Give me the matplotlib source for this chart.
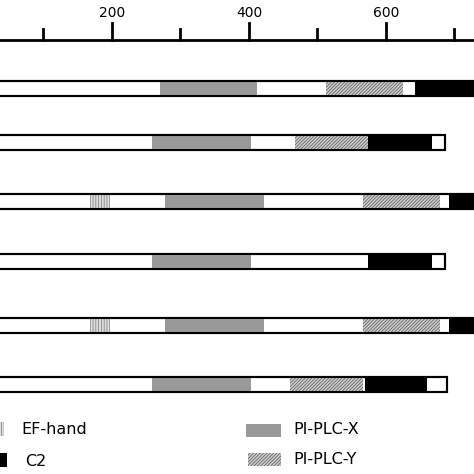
import matplotlib
matplotlib.use('Agg')
import matplotlib.pyplot as plt
from matplotlib.patches import Rectangle

# protein lengths (aa) and domain spans
LENGTHS = [760, 686, 760, 686, 760, 689]
EF = [None, None, (168, 197), None, (168, 197), None]
PLCX = [(270, 412), (258, 403), (277, 422), (258, 403), (277, 422), (258, 403)]
PLCY = [(512, 625), (467, 574), (566, 679), None, (566, 679), (460, 566)]
C2 = [(642, 760), (574, 667), (692, 760), (574, 667), (692, 760), (569, 660)]
MAJOR = [200, 400, 600]
MINOR = [100, 300, 500, 700]

ROW_Y = [88, 142, 201, 261, 325, 384]   # pixel rows
H = 15

plt.rcParams['hatch.linewidth'] = 0.5
fig = plt.figure(figsize=(4.74, 4.74), dpi=100)
ax = fig.add_axes([0, 0, 1, 1])
ax.set_xlim(36.5, 728.5)
ax.set_ylim(474, 0)
ax.axis('off')

# scale bar on top
ax.plot([0, 760], [40, 40], color='black', lw=2, solid_capstyle='butt')
for t in MAJOR:
    ax.plot([t, t], [23, 40], color='black', lw=2)
    ax.text(t, 13, str(t), ha='center', va='center', fontsize=10)
for t in MINOR:
    ax.plot([t, t], [29, 40], color='black', lw=2)

EF_STYLE = dict(fc='#dddddd', ec='#777777', hatch='||||||', lw=0)
Y_STYLE = dict(fc='#cccccc', ec='#555555', hatch='//////////', lw=0)


def box(x0, x1, y, **kw):
    ax.add_patch(Rectangle((x0, y - H / 2), x1 - x0, H, **kw))


for i, y in enumerate(ROW_Y):
    box(0, LENGTHS[i], y, fc='white', ec='black', lw=1.5, zorder=1)
    if EF[i]:
        box(*EF[i], y, zorder=2, **EF_STYLE)
    box(*PLCX[i], y, fc='#999999', ec='none', zorder=2)
    if PLCY[i]:
        box(*PLCY[i], y, zorder=2, **Y_STYLE)
    box(*C2[i], y, fc='black', ec='none', zorder=2)
    box(0, LENGTHS[i], y, fc='none', ec='black', lw=1.5, zorder=3)

# legend
def px(p):
    return p / 0.685 + 36.5

ax.add_patch(Rectangle((px(-8), 422), px(4) - px(-8), 14, **EF_STYLE))
ax.text(px(21), 429, 'EF-hand', va='center', fontsize=11.5)
ax.add_patch(Rectangle((px(-8), 453), px(7) - px(-8), 14, fc='black'))
ax.text(px(25), 461, 'C2', va='center', fontsize=11.5)
ax.add_patch(Rectangle((px(246), 424), px(281) - px(246), 13, fc='#999999'))
ax.text(px(293), 430, 'PI-PLC-X', va='center', fontsize=11.5)
ax.add_patch(Rectangle((px(248), 453), px(281) - px(248), 13, **Y_STYLE))
ax.text(px(293), 460, 'PI-PLC-Y', va='center', fontsize=11.5)

fig.savefig('out.png', dpi=100, facecolor='white')
